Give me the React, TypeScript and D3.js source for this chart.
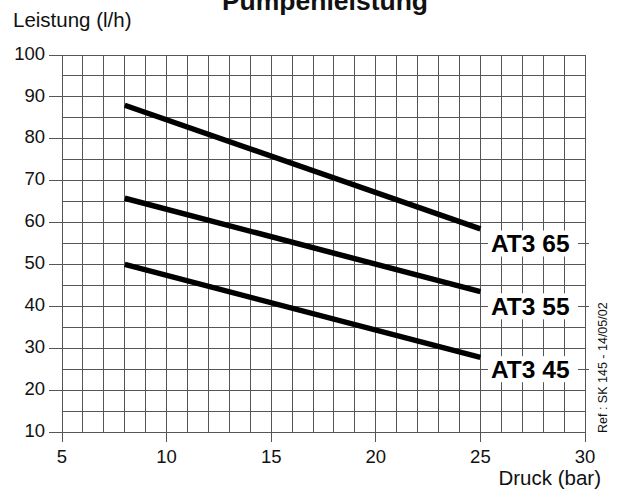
import React from "react";
import * as d3 from "d3";

const pressure = [8, 25];
const seriesNames = ["AT3 65", "AT3 55", "AT3 45"];
const at365 = [88, 58.5];
const at355 = [65.8, 43.5];
const at345 = [50, 27.8];
const labelLevels = [55, 40, 25];
const xTicks = [5, 10, 15, 20, 25, 30];
const yTicks = [10, 20, 30, 40, 50, 60, 70, 80, 90, 100];
const xGridValues = d3.range(5, 31, 1);
const yGridValues = d3.range(10, 101, 5);
const title = "Pumpenleistung";
const yTitle = "Leistung (l/h)";
const xTitle = "Druck (bar)";
const refText = "Ref : SK 145 - 14/05/02";

const W = 617;
const H = 490;
const FONT = "'Liberation Sans', Arial, sans-serif";

export default function App() {
  const x = d3.scaleLinear().domain([5, 30]).range([62, 585]);
  const y = d3.scaleLinear().domain([10, 100]).range([432, 55]);
  const seriesValues = [at365, at355, at345];
  const line = d3
    .line<[number, number]>()
    .x((d) => x(d[0]))
    .y((d) => y(d[1]));

  const gx0 = x(5), gx1 = x(30), gy0 = y(100), gy1 = y(10);
  const labelLeft = 488;
  const labelRight = 578;

  return (
    <svg
      width={W}
      height={H}
      style={{ position: "absolute", left: 0, top: 0, background: "#fff" }}
      fontFamily={FONT}
    >
      <rect x={0} y={0} width={W} height={H} fill="#fff" />
      {/* grid */}
      <g stroke="#555" strokeWidth={1} shapeRendering="crispEdges">
        {xGridValues.map((v) => (
          <line key={"vx" + v} x1={x(v)} x2={x(v)} y1={gy0} y2={gy1} />
        ))}
        {yGridValues.map((v) => (
          <line key={"hy" + v} x1={gx0} x2={gx1} y1={y(v)} y2={y(v)} />
        ))}
        {yTicks.map((v) => (
          <line key={"ty" + v} x1={49} x2={gx0} y1={y(v)} y2={y(v)} />
        ))}
        {xTicks.map((v) => (
          <line key={"tx" + v} x1={x(v)} x2={x(v)} y1={gy1} y2={gy1 + 10} />
        ))}
        {labelLevels.map((v) => (
          <line key={"lt" + v} x1={gx1} x2={gx1 + 4} y1={y(v)} y2={y(v)} />
        ))}
      </g>
      {/* series lines */}
      {seriesValues.map((vals, i) => (
        <path
          key={"s" + i}
          d={line(pressure.map((p, j) => [p, vals[j]] as [number, number])) || ""}
          fill="none"
          stroke="#000"
          strokeWidth={5.5}
        />
      ))}
      {/* series labels */}
      {seriesNames.map((name, i) => (
        <g key={"l" + i}>
          <rect
            x={labelLeft}
            y={y(labelLevels[i]) - 13}
            width={labelRight - labelLeft}
            height={26}
            fill="#fff"
          />
          <text
            x={labelLeft + 3}
            y={y(labelLevels[i])}
            dy="0.36em"
            fontSize={24.5}
            fontWeight="bold"
            fill="#000"
          >
            {name}
          </text>
        </g>
      ))}
      {/* y tick labels */}
      {yTicks.map((v) => (
        <text
          key={"yl" + v}
          x={45}
          y={y(v) - 2}
          dy="0.36em"
          textAnchor="end"
          fontSize={18.5}
          fill="#111"
        >
          {v}
        </text>
      ))}
      {/* x tick labels */}
      {xTicks.map((v) => (
        <text
          key={"xl" + v}
          x={x(v)}
          y={463}
          textAnchor="middle"
          fontSize={18.5}
          fill="#111"
        >
          {v}
        </text>
      ))}
      <text x={13} y={27} fontSize={20.5} fill="#111">
        {yTitle}
      </text>
      <text x={601} y={485} textAnchor="end" fontSize={20.5} fill="#111">
        {xTitle}
      </text>
      <text
        x={325}
        y={10}
        textAnchor="middle"
        fontSize={26.5}
        fontWeight="bold"
        fill="#111"
      >
        {title}
      </text>
      <text
        transform={`translate(607,433) rotate(-90)`}
        fontSize={12.5}
        fill="#111"
      >
        {refText}
      </text>
    </svg>
  );
}
